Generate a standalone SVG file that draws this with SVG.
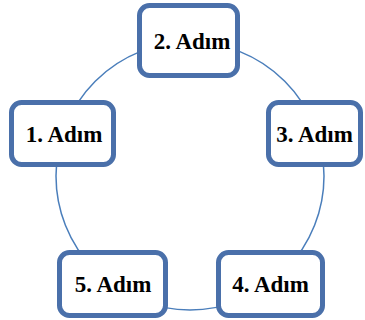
<svg xmlns="http://www.w3.org/2000/svg" width="365" height="320" viewBox="0 0 365 320">
<style>
.box{fill:#ffffff;stroke:#4a70aa;stroke-width:5}
.lbl{font-family:"Liberation Serif","Times New Roman",serif;font-weight:bold;font-size:23px;fill:#000000;text-anchor:middle}
.ring{fill:none;stroke:#4a7ebb;stroke-width:1.5}
</style>
<rect width="365" height="320" fill="#ffffff"/>
<g id="connectors">
<circle class="ring" cx="190" cy="176" r="134"/>
</g>
<g id="node2">
<rect class="box" x="139.5" y="5.5" width="98" height="70" rx="10"/>
<text class="lbl" x="192" y="48.5">2. Adım</text>
</g>
<g id="node1">
<rect class="box" x="11.5" y="102.5" width="102" height="62" rx="10"/>
<text class="lbl" x="64" y="142">1. Adım</text>
</g>
<g id="node3">
<rect class="box" x="268.5" y="102.5" width="92" height="62" rx="10"/>
<text class="lbl" x="314.5" y="142">3. Adım</text>
</g>
<g id="node4">
<rect class="box" x="218.5" y="252.5" width="104" height="63" rx="10"/>
<text class="lbl" x="270.5" y="292">4. Adım</text>
</g>
<g id="node5">
<rect class="box" x="59.5" y="252.5" width="106" height="63" rx="10"/>
<text class="lbl" x="113" y="292">5. Adım</text>
</g>
</svg>
